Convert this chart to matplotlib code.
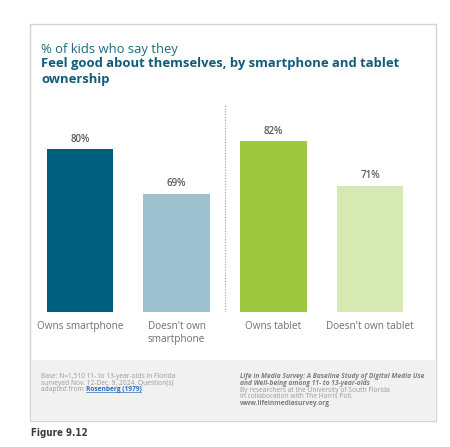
import matplotlib
matplotlib.use("Agg")
import matplotlib.pyplot as plt
from matplotlib.patches import Rectangle

categories = ["Owns smartphone", "Doesn't own\nsmartphone", "Owns tablet", "Doesn't own tablet"]
values = [80, 69, 82, 71]
colors = ["#005f7e", "#9cc2d0", "#9dc83f", "#d7e9b3"]

W, H = 450, 447
plt.rcParams["font.family"] = ["Open Sans", "DejaVu Sans"]
fig = plt.figure(figsize=(W / 100, H / 100), dpi=100)

def fx(px): return px / W
def fy(py): return 1 - py / H

# card frame and footer band
fig.patches.append(Rectangle((fx(30), fy(421)), fx(436) - fx(30), fy(24) - fy(421),
                             transform=fig.transFigure, fc="white", ec="#d4d4d4", lw=1.0, zorder=-2))
fig.patches.append(Rectangle((fx(30.5), fy(420.5)), fx(435.5) - fx(30.5), fy(360) - fy(420.5),
                             transform=fig.transFigure, fc="#f1f1f1", ec="none", zorder=-1))

# titles
fig.text(fx(41), fy(49), "% of kids who say they", color="#1b6a86", fontsize=9.4, va="center", ha="left")
fig.text(fx(41), fy(64), "Feel good about themselves, by smartphone and tablet",
         color="#0f5c78", fontsize=9.4, fontweight="bold", va="center", ha="left")
fig.text(fx(41), fy(80), "ownership", color="#0f5c78", fontsize=9.4, fontweight="bold",
         va="center", ha="left")

# bars
ax = fig.add_axes([fx(31.65), fy(311.7), fx(418.35) - fx(31.65), fy(105) - fy(311.7)], zorder=2)
ax.patch.set_alpha(0)
x = list(range(len(values)))
ax.bar(x, values, width=0.69, color=colors, bottom=0)
ax.set_xlim(-0.5, 3.5)
ax.set_ylim(40, 90.9)
ax.axis("off")
ax.axvline(1.5, color="#9a9a9a", lw=0.8, ls=(0, (1, 1.5)))
for xi, v in zip(x, values):
    ax.text(xi, v + 2.45, f"{v}%", ha="center", va="center", fontsize=7.0,
            fontweight="semibold", color="#5c5c5c")
for xi, c in zip(x, categories):
    ax.text(xi, 40 - 2.2, c, ha="center", va="top", fontsize=7.2, color="#707070", linespacing=1.35)

# footer text
GREY = "#9a9a9a"
LINK = "#2f6fb5"
fs = 4.75
fig.text(fx(41), fy(377), "Base: N=1,510 11- to 13-year-olds in Florida", color=GREY, fontsize=fs, va="center")
fig.text(fx(41), fy(383.3), "surveyed Nov. 12-Dec. 9, 2024. Question(s)", color=GREY, fontsize=fs, va="center")
t = fig.text(fx(41), fy(389.6), "adapted from ", color=GREY, fontsize=fs, va="center")
fig.canvas.draw()
bb = t.get_window_extent()
r = fig.text(bb.x1 / W, fy(389.6), "Rosenberg (1979)", color=LINK, fontsize=fs, va="center",
             fontweight="bold")
fig.canvas.draw()
rb = r.get_window_extent()
fig.add_artist(plt.Line2D([rb.x0 / W, rb.x1 / W], [fy(392.4), fy(392.4)], transform=fig.transFigure,
                          color=LINK, lw=0.5))
fig.text(rb.x1 / W, fy(389.6), ".", color=GREY, fontsize=fs, va="center")

DK = "#7d7d7d"
fig.text(fx(240), fy(377), "Life in Media Survey: A Baseline Study of Digital Media Use",
         color=DK, fontsize=fs, va="center", fontweight="bold", style="italic")
fig.text(fx(240), fy(383.5), "and Well-being among 11- to 13-year-olds",
         color=DK, fontsize=fs, va="center", fontweight="bold", style="italic")
fig.text(fx(240), fy(390.2), "By researchers at the University of South Florida", color=GREY, fontsize=fs, va="center")
fig.text(fx(240), fy(396.8), "in collaboration with The Harris Poll.", color=GREY, fontsize=fs, va="center")
fig.text(fx(240), fy(403.4), "www.lifeinmediasurvey.org", color=DK, fontsize=fs, va="center", fontweight="bold")

# figure caption
fig.text(fx(31), fy(433), "Figure 9.12", family="DejaVu Sans", fontstretch="condensed",
         fontsize=7.0, fontweight="bold", color="#3a3a3a", va="center")

fig.savefig("out.png", dpi=100)
